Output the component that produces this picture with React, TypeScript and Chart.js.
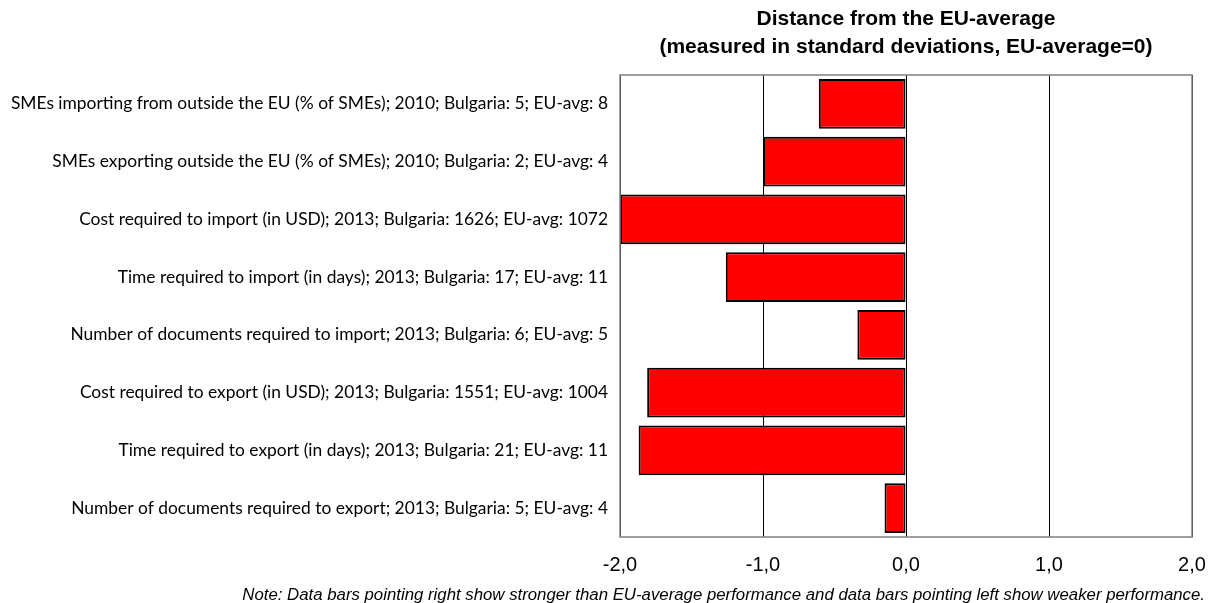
import React, { useEffect, useRef } from "react";
import { Chart, registerables } from "chart.js";

Chart.register(...registerables);

const categories: string[] = [
  "SMEs importing from outside the EU (% of SMEs); 2010; Bulgaria: 5; EU-avg: 8",
  "SMEs exporting outside the EU (% of SMEs); 2010; Bulgaria: 2; EU-avg: 4",
  "Cost required to import (in USD); 2013; Bulgaria: 1626; EU-avg: 1072",
  "Time required to import (in days); 2013; Bulgaria: 17; EU-avg: 11",
  "Number of documents required to import; 2013; Bulgaria: 6; EU-avg: 5",
  "Cost required to export (in USD); 2013; Bulgaria: 1551; EU-avg: 1004",
  "Time required to export (in days); 2013; Bulgaria: 21; EU-avg: 11",
  "Number of documents required to export; 2013; Bulgaria: 5; EU-avg: 4",
];

const distances: number[] = [-0.61, -1.0, -2.0, -1.26, -0.34, -1.81, -1.87, -0.15];

const xTicks: number[] = [-2, -1, 0, 1, 2];

const titleLines: string[] = [
  "Distance from the EU-average",
  "(measured in standard deviations, EU-average=0)",
];

const noteText =
  "Note: Data bars pointing right show stronger than EU-average performance and data bars pointing left show weaker performance.";

const framePlugin = {
  id: "frame",
  afterDatasetsDraw(chart: any) {
    const { ctx, chartArea } = chart;
    ctx.save();
    ctx.strokeStyle = "#808080";
    ctx.lineWidth = 1.5;
    ctx.strokeRect(chartArea.left, chartArea.top, chartArea.right - chartArea.left, chartArea.bottom - chartArea.top);
    ctx.restore();
  },
};

const notePlugin = {
  id: "note",
  afterDraw(chart: any) {
    const { ctx, width } = chart;
    ctx.save();
    ctx.fillStyle = "#000000";
    ctx.font = "italic 16.8px 'Liberation Sans', Arial, sans-serif";
    ctx.textAlign = "right";
    ctx.textBaseline = "alphabetic";
    ctx.fillText(noteText, width - 4, 600);
    ctx.restore();
  },
};

export default function App() {
  const canvasRef = useRef<HTMLCanvasElement | null>(null);

  useEffect(() => {
    if (!canvasRef.current) return;
    const chart = new Chart(canvasRef.current, {
      type: "bar",
      data: {
        labels: categories,
        datasets: [
          {
            data: distances,
            backgroundColor: "#FF0000",
            borderColor: "#000000",
            borderWidth: 2,
            borderSkipped: false,
            categoryPercentage: 0.88,
            barPercentage: 0.98,
          },
        ],
      },
      options: {
        indexAxis: "y",
        animation: false,
        responsive: true,
        maintainAspectRatio: false,
        layout: { padding: { left: 0, right: 17, top: 6, bottom: 10 } },
        plugins: {
          legend: { display: false },
          tooltip: { enabled: false },
          title: {
            display: true,
            text: titleLines,
            fullSize: false,
            color: "#000000",
            font: { family: "Liberation Sans, Arial, sans-serif", size: 21, weight: "bold", lineHeight: 1.3 },
            padding: { top: 0, bottom: 14.4 },
          },
        },
        scales: {
          x: {
            type: "linear",
            min: -2,
            max: 2,
            afterBuildTicks(scale: any) {
              scale.ticks = xTicks.map((v) => ({ value: v }));
            },
            afterFit(scale: any) {
              scale.paddingLeft = 0;
              scale.paddingRight = 0;
            },
            ticks: {
              color: "#000000",
              font: { family: "Liberation Sans, Arial, sans-serif", size: 20, lineHeight: 1.2 },
              padding: 16,
              maxRotation: 0,
              callback: (v: any) => Number(v).toFixed(1).replace(".", ","),
            },
            grid: { color: "#000000", lineWidth: 1, drawTicks: false },
            border: { display: false },
          },
          y: {
            afterFit(scale: any) {
              scale.width = 620;
            },
            ticks: {
              color: "#000000",
              font: { family: "Lato, Calibri, sans-serif", size: 17.4 },
              padding: 12,
            },
            grid: { display: false, drawTicks: false },
            border: { display: false },
          },
        },
      },
      plugins: [framePlugin, notePlugin],
    });
    return () => chart.destroy();
  }, []);

  return (
    <div style={{ position: "fixed", left: 0, top: 0, width: 1209, height: 603, background: "#ffffff" }}>
      <canvas ref={canvasRef} />
    </div>
  );
}
